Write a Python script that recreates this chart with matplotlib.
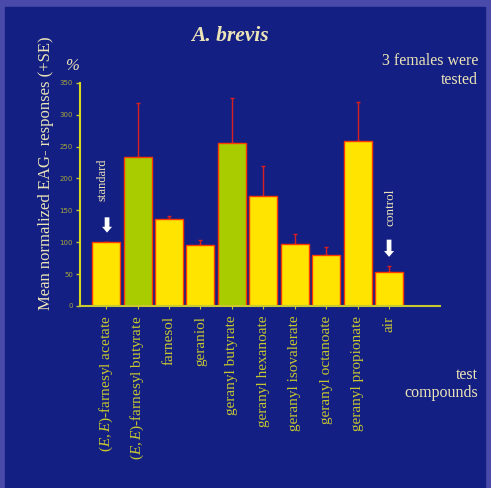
import numpy as np
import matplotlib.pyplot as plt
from matplotlib.patches import Rectangle

plt.rcParams['font.family'] = ['Liberation Serif', 'DejaVu Serif']
plt.rcParams['mathtext.fontset'] = 'custom'
plt.rcParams['mathtext.it'] = 'Liberation Serif:italic'
plt.rcParams['mathtext.rm'] = 'Liberation Serif'

compounds = [r'($\it{E,E}$)-farnesyl acetate', r'($\it{E,E}$)-farnesyl butyrate',
             'farnesol', 'geraniol', 'geranyl butyrate', 'geranyl hexanoate',
             'geranyl isovalerate', 'geranyl octanoate', 'geranyl propionate', 'air']
responses = [100, 233, 137, 95, 255, 172, 97, 80, 258, 54]
se = [0, 85, 4, 8, 71, 47, 16, 12, 61, 9]
highlighted = [1, 4]  # butyrates drawn in green

BG = '#131f82'
BORDER = '#4a4aaa'
CREAM = '#ece4b8'
YELLOW = '#ffe400'
GREEN = '#a8cc00'

fig = plt.figure(figsize=(4.91, 4.88), dpi=100)
fig.patch.set_facecolor(BORDER)
fig.patches.append(Rectangle((5 / 491, 0), 480 / 491, 481 / 488,
                             transform=fig.transFigure, color=BG, zorder=-10))

ax = fig.add_axes([80 / 491, 182 / 488, 360 / 491, 223.3 / 488])
ax.set_facecolor('none')

x = np.arange(len(compounds))
colors = [GREEN if i in highlighted else YELLOW for i in x]
ax.bar(x, responses, width=0.89, color=colors, edgecolor='#ff3a00', linewidth=1.0, zorder=2)
ax.errorbar(x, responses, yerr=[np.zeros(len(se)), se], fmt='none',
            ecolor='#d82020', elinewidth=1.0, capsize=1.5, capthick=1.0, zorder=1)

ax.set_xlim(-0.83, 10.62)
ax.set_ylim(0, 350)
ax.set_yticks(np.arange(0, 351, 50))
ax.set_xticks(x)
ax.set_xticklabels(compounds, rotation=90, fontsize=11, va='top')
for i, lbl in enumerate(ax.get_xticklabels()):
    lbl.set_color(GREEN if i in highlighted else CREAM)

for s in ['top', 'right']:
    ax.spines[s].set_visible(False)
ax.spines['left'].set_color('#d8d820')
ax.spines['bottom'].set_color('#c8c830')
ax.spines['left'].set_linewidth(1.5)
ax.spines['bottom'].set_linewidth(1.5)
ax.tick_params(axis='y', colors='#c8c830', labelcolor='#a8a838', labelsize=5,
               length=3, width=1, pad=2)
ax.tick_params(axis='x', colors='#c8c830', length=2, width=0.8, pad=5)
for lbl in ax.get_yticklabels():
    lbl.set_family('DejaVu Sans')

ax.set_ylabel('Mean normalized EAG- responses (+SE)', fontsize=12, color=CREAM)
ax.yaxis.set_label_coords(-0.072, 0.596)

# standard / control markers
arrow = dict(arrowstyle='simple,head_width=0.72,head_length=0.42,tail_width=0.34',
             color='white', lw=0, shrinkA=0, shrinkB=0)
ax.annotate('', xy=(0.03, responses[0] + 15), xytext=(0.03, responses[0] + 39), arrowprops=arrow)
ax.text(-0.1, 198, 'standard', rotation=90, ha='center', va='center', fontsize=9, color=CREAM)
ax.annotate('', xy=(9.0, responses[9] + 23), xytext=(9.0, responses[9] + 50), arrowprops=arrow)
ax.text(9.05, 155, 'control', rotation=90, ha='center', va='center', fontsize=9.5, color=CREAM)

fig.text(230 / 491, 1 - 36 / 488, 'A. brevis', fontsize=15.5, fontweight='bold', style='italic',
         color=CREAM, ha='center', va='center')
fig.text(72 / 491, 1 - 66 / 488, '%', fontsize=12, style='italic', color=CREAM, ha='center', va='center')
fig.text(478 / 491, 1 - 61 / 488, '3 females were', fontsize=11.5, color=CREAM, ha='right', va='center')
fig.text(478 / 491, 1 - 80 / 488, 'tested', fontsize=11.5, color=CREAM, ha='right', va='center')
fig.text(478 / 491, 1 - 375 / 488, 'test', fontsize=11.5, color=CREAM, ha='right', va='center')
fig.text(478 / 491, 1 - 393 / 488, 'compounds', fontsize=11.5, color=CREAM, ha='right', va='center')

fig.savefig('out.png', dpi=100, facecolor=fig.get_facecolor())
